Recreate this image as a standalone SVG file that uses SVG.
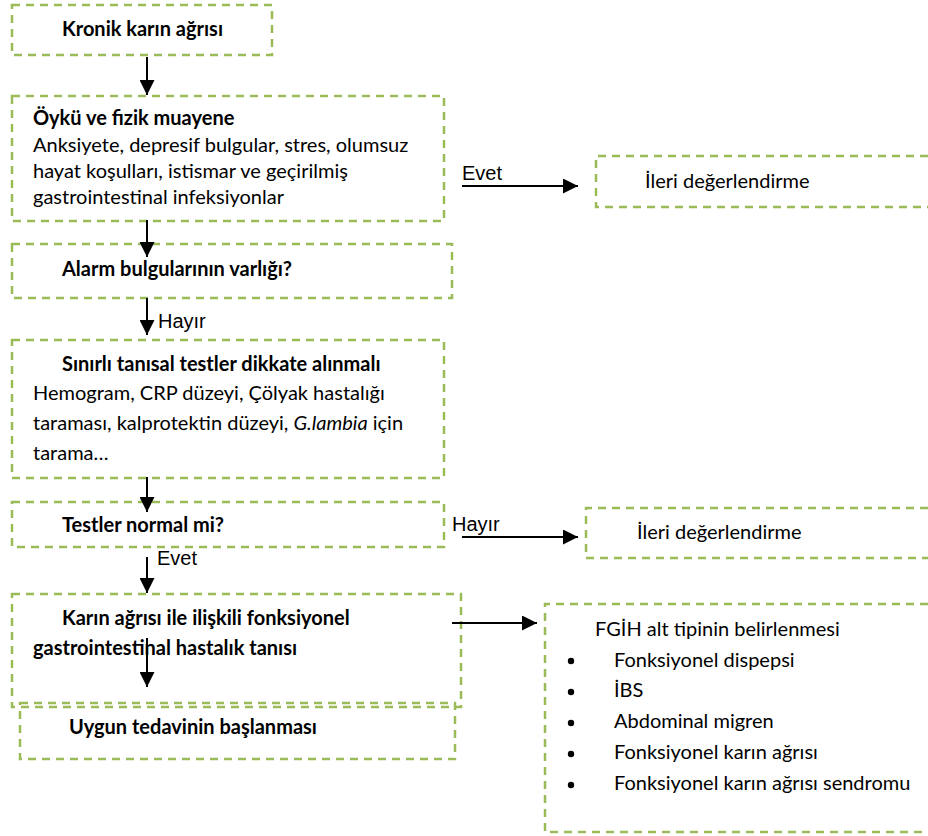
<svg xmlns="http://www.w3.org/2000/svg" width="928" height="836" viewBox="0 0 928 836">
<style>
.box{fill:none;stroke:#9bbb59;stroke-width:2.5;stroke-dasharray:8 6}
.t{font-family:Lato,"Open Sans","Liberation Sans",sans-serif;font-size:20px;fill:#000}
.b{font-weight:bold}
.lbl{font-family:"Liberation Sans",Arial,sans-serif;font-size:20px;fill:#000}
.c{stroke:#000;stroke-width:2;fill:none;marker-end:url(#ah)}
</style>
<defs>
<marker id="ah" markerUnits="userSpaceOnUse" markerWidth="15" markerHeight="15" refX="15" refY="7.5" orient="auto">
<path d="M0,0 L15,7.5 L0,15 z" fill="#000"/>
</marker>
</defs>
<rect width="928" height="836" fill="#fff"/>

<g id="n1">
<rect class="box" x="12" y="5" width="260" height="50"/>
<text class="t b" x="62" y="36">Kronik karın ağrısı</text>
</g>

<g id="n2">
<rect class="box" x="12" y="96" width="432" height="125"/>
<text class="t b" x="33" y="125">Öykü ve fizik muayene</text>
<text class="t" x="33" y="152">Anksiyete, depresif bulgular, stres, olumsuz</text>
<text class="t" x="33" y="178">hayat koşulları, istismar ve geçirilmiş</text>
<text class="t" x="33" y="204">gastrointestinal infeksiyonlar</text>
</g>

<g id="n3">
<path class="box" d="M928,156 H596 V207 H928"/>
<text class="t" x="645" y="188">İleri değerlendirme</text>
</g>

<g id="n4">
<rect class="box" x="12" y="244" width="440" height="54"/>
<text class="t b" x="62" y="276">Alarm bulgularının varlığı?</text>
</g>

<g id="n5">
<rect class="box" x="12" y="340" width="432" height="138"/>
<text class="t b" x="62" y="371">Sınırlı tanısal testler dikkate alınmalı</text>
<text class="t" x="33" y="400">Hemogram, CRP düzeyi, Çölyak hastalığı</text>
<text class="t" x="33" y="430">taraması, kalprotektin düzeyi, <tspan font-style="italic">G.lambia</tspan> için</text>
<text class="t" x="33" y="460">tarama…</text>
</g>

<g id="n6">
<rect class="box" x="12" y="502" width="432" height="45"/>
<text class="t b" x="62" y="532">Testler normal mi?</text>
</g>

<g id="n7">
<path class="box" d="M928,508 H586 V558 H928"/>
<text class="t" x="637" y="539">İleri değerlendirme</text>
</g>

<g id="n8">
<rect class="box" x="12" y="594" width="449" height="113"/>
<text class="t b" x="62" y="625">Karın ağrısı ile ilişkili fonksiyonel</text>
<text class="t b" x="33" y="655">gastrointestinal hastalık tanısı</text>
</g>

<g id="n9">
<rect class="box" x="20" y="703" width="435" height="56"/>
<text class="t b" x="69" y="734">Uygun tedavinin başlanması</text>
</g>

<g id="n10">
<path class="box" d="M928,604 H545 V832 H928"/>
<text class="t" x="595" y="636">FGİH alt tipinin belirlenmesi</text>
<circle cx="571" cy="661" r="3.2"/>
<circle cx="571" cy="692" r="3.2"/>
<circle cx="571" cy="723" r="3.2"/>
<circle cx="571" cy="754" r="3.2"/>
<circle cx="571" cy="785" r="3.2"/>
<text class="t" x="614" y="667">Fonksiyonel dispepsi</text>
<text class="t" x="614" y="697">İBS</text>
<text class="t" x="614" y="728">Abdominal migren</text>
<text class="t" x="614" y="759">Fonksiyonel karın ağrısı</text>
<text class="t" x="614" y="790">Fonksiyonel karın ağrısı sendromu</text>
</g>

<g id="connectors">
<line class="c" x1="147" y1="57" x2="147" y2="95"/>
<line class="c" x1="147" y1="220" x2="147" y2="257"/>
<line class="c" x1="147" y1="298" x2="147" y2="335"/>
<line class="c" x1="147" y1="477" x2="147" y2="512"/>
<line class="c" x1="147" y1="557" x2="147" y2="593"/>
<line class="c" x1="147" y1="638" x2="147" y2="687"/>
<line class="c" x1="462" y1="186" x2="578" y2="186"/>
<line class="c" x1="462" y1="537" x2="578" y2="537"/>
<line class="c" x1="452" y1="623" x2="537" y2="623"/>
<text class="lbl" x="462" y="180">Evet</text>
<text class="lbl" x="158" y="328">Hayır</text>
<text class="lbl" x="452" y="531">Hayır</text>
<text class="lbl" x="157" y="565">Evet</text>
</g>
</svg>
